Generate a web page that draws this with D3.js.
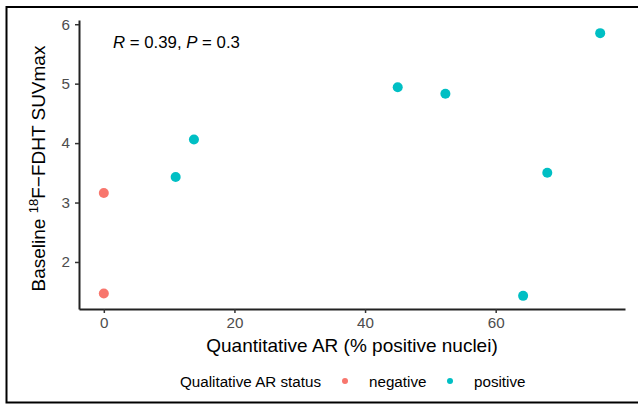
<!DOCTYPE html>
<html>
<head>
<meta charset="utf-8">
<script src="https://cdn.jsdelivr.net/npm/d3@7"></script>
<style>
  body { margin: 0; background: white; }
  text { font-family: "Liberation Sans", Arial, sans-serif; }
</style>
</head>
<body>
<script>
// data
var arPercent = [0, 0, 11, 13.8, 45, 52.3, 64.2, 67.9, 76];
var suvMax    = [3.16, 1.47, 3.43, 4.06, 4.94, 4.83, 1.43, 3.5, 5.85];
var arStatus  = ['negative', 'negative', 'positive', 'positive', 'positive', 'positive', 'positive', 'positive', 'positive'];
var statusLevels = ['negative', 'positive'];
var xTicks = [0, 20, 40, 60];
var yTicks = [2, 3, 4, 5, 6];

var width = 638, height = 404;
var plotLeft = 79, plotRight = 625, plotTop = 20, plotBottom = 309;

var svg = d3.select('body').append('svg')
  .attr('width', width)
  .attr('height', height);

// outer frame (no right edge visible in the figure)
svg.append('path')
  .attr('d', `M638,7 H6.5 V402.5 H638`)
  .attr('fill', 'none')
  .attr('stroke', 'black')
  .attr('stroke-width', 2);

var points = arPercent.map(function(d, i) {
  return {x: d, y: suvMax[i], status: arStatus[i]};
});

// ggplot-style 5% expansion
var xExt = d3.extent(arPercent), yExt = d3.extent(suvMax);
var xPad = (xExt[1] - xExt[0]) * 0.05, yPad = (yExt[1] - yExt[0]) * 0.05;

var x = d3.scaleLinear()
  .domain([xExt[0] - xPad, xExt[1] + xPad])
  .range([plotLeft, plotRight]);
var y = d3.scaleLinear()
  .domain([yExt[0] - yPad, yExt[1] + yPad])
  .range([plotBottom, plotTop]);

var color = d3.scaleOrdinal()
  .domain(statusLevels)
  .range(['#F8766D', '#00BFC4']);

var xAxis = svg.append('g')
  .attr('transform', `translate(0,${plotBottom})`)
  .call(d3.axisBottom(x).tickValues(xTicks).tickFormat(d3.format('d'))
    .tickSize(4).tickPadding(4).tickSizeOuter(0));
var yAxis = svg.append('g')
  .attr('transform', `translate(${plotLeft},0)`)
  .call(d3.axisLeft(y).tickValues(yTicks).tickFormat(d3.format('d'))
    .tickSize(4).tickPadding(5).tickSizeOuter(0));

[xAxis, yAxis].forEach(function(ax) {
  ax.attr('font-size', 15.2).attr('font-family', '"Liberation Sans", Arial, sans-serif');
  ax.select('.domain').attr('stroke', '#222').attr('stroke-width', 2);
  ax.selectAll('.tick line').attr('stroke', '#333').attr('stroke-width', 1.5);
  ax.selectAll('.tick text').attr('fill', '#4d4d4d');
});

svg.selectAll('.pt')
  .data(points)
  .enter()
  .append('circle')
  .attr('class', 'pt')
  .attr('cx', function(d) { return x(d.x); })
  .attr('cy', function(d) { return y(d.y); })
  .attr('r', 5)
  .attr('fill', function(d) { return color(d.status); });

// correlation annotation
var ann = svg.append('text')
  .attr('x', 113)
  .attr('y', 48)
  .attr('font-size', 16.8)
  .attr('fill', 'black');
ann.append('tspan').attr('font-style', 'italic').text('R');
ann.append('tspan').text(' = 0.39, ');
ann.append('tspan').attr('font-style', 'italic').text('P');
ann.append('tspan').text(' = 0.3');

// axis titles
svg.append('text')
  .attr('x', (plotLeft + plotRight) / 2)
  .attr('y', 352)
  .attr('text-anchor', 'middle')
  .attr('font-size', 19)
  .text('Quantitative AR (% positive nuclei)');

var yTitle = svg.append('text')
  .attr('transform', `translate(45,${(plotTop + plotBottom) / 2 + 4}) rotate(-90)`)
  .attr('text-anchor', 'middle')
  .attr('font-size', 19);
yTitle.append('tspan').text('Baseline ');
yTitle.append('tspan').attr('dy', -7).attr('font-size', 13).text('18');
yTitle.append('tspan').attr('dy', 7).text('F\u2212FDHT SUVmax');

// legend
var legend = svg.append('g');
legend.append('text')
  .attr('x', 180)
  .attr('y', 386.5)
  .attr('font-size', 15.2)
  .text('Qualitative AR status');

var legendX = [345, 450];
var item = legend.selectAll('.item')
  .data(statusLevels)
  .enter()
  .append('g')
  .attr('class', 'item');
item.append('circle')
  .attr('cx', function(d, i) { return legendX[i]; })
  .attr('cy', 381)
  .attr('r', 3)
  .attr('fill', function(d) { return color(d); });
item.append('text')
  .attr('x', function(d, i) { return legendX[i] + 24; })
  .attr('y', 386.5)
  .attr('font-size', 15.2)
  .text(function(d) { return d; });
</script>
</body>
</html>
